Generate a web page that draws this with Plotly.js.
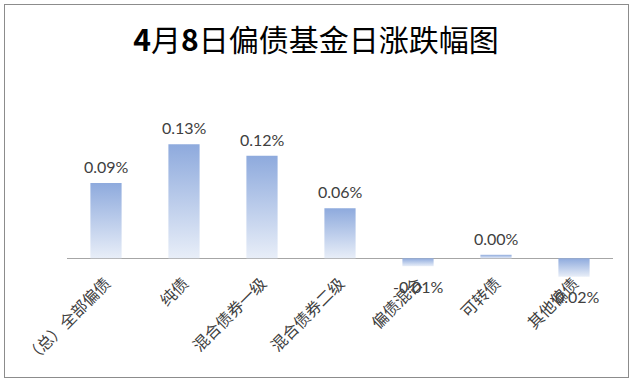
<!DOCTYPE html>
<html>
<head>
<meta charset="utf-8">
<script src="https://cdn.plot.ly/plotly-3.0.1.min.js"></script>
<style>
html,body{margin:0;padding:0;background:#fff;}
#wrap{position:relative;width:639px;height:385px;}
#chart{width:639px;height:385px;}
#frame{position:absolute;left:4px;top:4px;width:623px;height:372px;border:1.5px solid #8c8c8c;pointer-events:none;}
</style>
</head>
<body>
<div id="wrap"><div id="chart"></div><div id="frame"></div></div>
<script>
const categories = ["（总）全部偏债", "纯债", "混合债券一级", "混合债券二级", "偏债混合", "可转债", "其他偏债"];
const values = [0.086, 0.130, 0.117, 0.057, -0.009, 0.004, -0.021];
const valueLabels = ["0.09%", "0.13%", "0.12%", "0.06%", "-0.01%", "0.00%", "-0.02%"];
const titleText = "<b>4</b>月<b>8</b>日偏债基金日涨跌幅图";

const trace = {
  type: "bar",
  x: categories,
  y: values,
  marker: {color: "#b9cbea", line: {width: 0}},
  hoverinfo: "none"
};

const annotations = categories.map((c, i) => ({
  x: c, y: values[i], xref: "x", yref: "y",
  text: valueLabels[i], showarrow: false,
  yanchor: values[i] >= 0 ? "bottom" : "middle",
  yshift: values[i] >= 0 ? 5 : -20,
  font: {family: "Lato, 'Open Sans', sans-serif", size: 16, color: "#404040"}
}));

const layout = {
  width: 639, height: 385,
  margin: {l: 67, r: 26, t: 118, b: 96},
  paper_bgcolor: "#ffffff", plot_bgcolor: "#ffffff",
  showlegend: false,
  bargap: 0.6,
  title: {
    text: titleText, xref: "container", yref: "container",
    x: 0.4945, y: 0.896, xanchor: "center", yanchor: "middle",
    font: {family: "'Noto Sans CJK SC', sans-serif", size: 30, color: "#000000"}
  },
  xaxis: {
    type: "category", showline: false, showgrid: false, ticks: "",
    tickangle: -45, ticklabelstandoff: -19,
    tickfont: {family: "'Noto Sans CJK SC', sans-serif", size: 16, color: "#404040"}
  },
  yaxis: {
    range: [-0.035, 0.16], showgrid: false, showticklabels: false,
    zeroline: true, zerolinecolor: "#a6a6a6", zerolinewidth: 1, showline: false, ticks: ""
  },
  annotations: annotations
};

Plotly.newPlot("chart", [trace], layout, {displayModeBar: false, staticPlot: true}).then(function(gd){
  const svg = gd.querySelector("svg.main-svg");
  const ns = "http://www.w3.org/2000/svg";
  let defs = svg.querySelector("defs");
  if (!defs) { defs = document.createElementNS(ns, "defs"); svg.insertBefore(defs, svg.firstChild); }
  const grad = document.createElementNS(ns, "linearGradient");
  grad.setAttribute("id", "barGrad");
  grad.setAttribute("x1", "0"); grad.setAttribute("y1", "0");
  grad.setAttribute("x2", "0"); grad.setAttribute("y2", "1");
  const s1 = document.createElementNS(ns, "stop");
  s1.setAttribute("offset", "0"); s1.setAttribute("stop-color", "#8eaadd");
  const s2 = document.createElementNS(ns, "stop");
  s2.setAttribute("offset", "1"); s2.setAttribute("stop-color", "#e8eef8");
  grad.appendChild(s1); grad.appendChild(s2);
  defs.appendChild(grad);
  gd.querySelectorAll(".trace.bars .point path").forEach(function(p){
    p.style.fill = "url(#barGrad)";
  });
});
</script>
</body>
</html>
